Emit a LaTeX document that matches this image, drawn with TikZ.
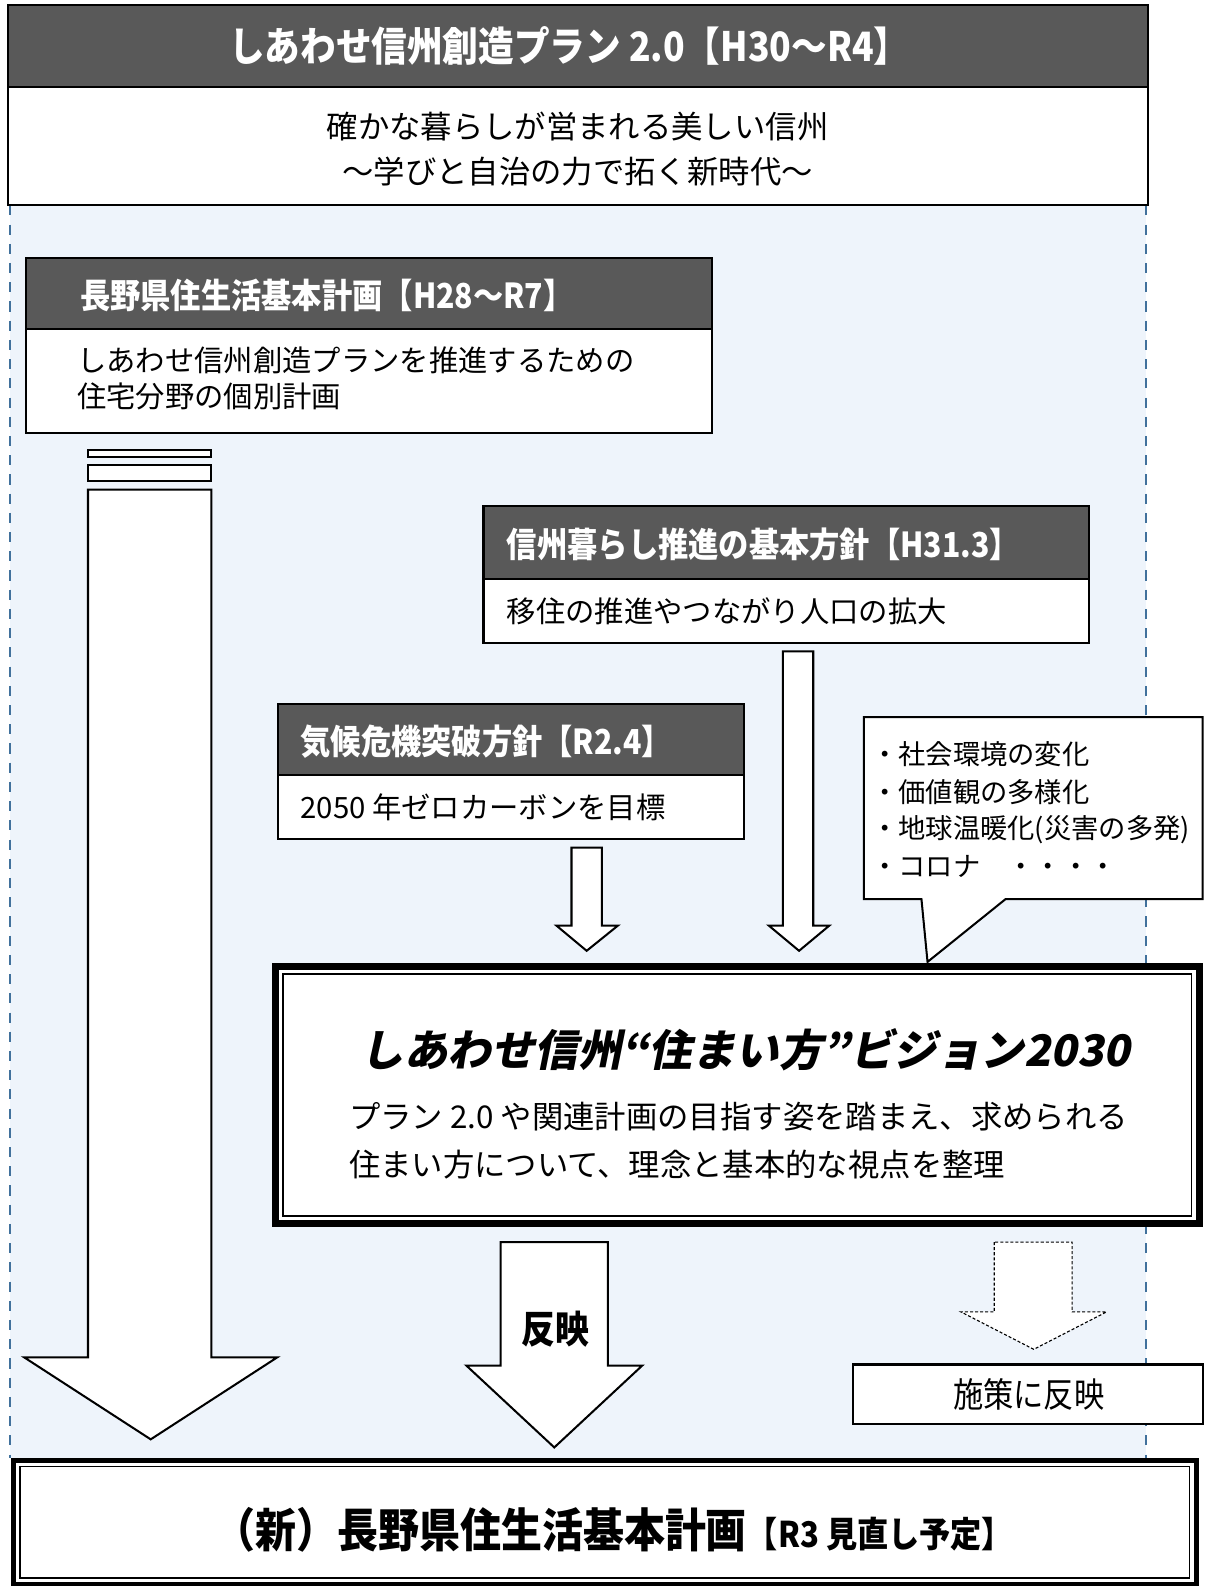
\documentclass[tikz,border=0pt]{standalone}
\usepackage{fontspec}
\setmainfont{Noto Sans CJK JP}
\newfontfamily\hd{Noto Sans CJK JP}[FakeStretch=0.88]
\newfontfamily\vis{Noto Sans CJK JP}[FakeSlant=0.2]
\definecolor{hdr}{HTML}{595959}
\definecolor{bgblue}{HTML}{EEF4FB}
\definecolor{dashblue}{HTML}{41719C}
\begin{document}
\begin{tikzpicture}[x=1pt,y=-1pt,
  box/.style={draw=black, line width=2pt, fill=white},
  hdrbox/.style={draw=black, line width=2pt, fill=hdr},
  barrow/.style={draw=black, line width=2pt, fill=white, line join=miter},
  dbarrow/.style={draw=black, line width=1.1pt, fill=white, dash pattern=on 3pt off 2pt},
  bgline/.style={dashblue, line width=2.6pt, dash pattern=on 10pt off 9pt},
  hdtext/.style={inner sep=0pt, text=white, font={\hd\bfseries\fontsize{34}{38}\selectfont}},
  bodytext/.style={inner sep=0pt, font={\fontsize{29}{32}\selectfont}},
  plain/.style={inner sep=0pt}]
\useasboundingbox (0,0) rectangle (1191,1568);

% light blue background region
\fill[bgblue] (10,203) rectangle (1133,1441);
\draw[bgline] (10,203) -- (10,1441);
\draw[bgline] (1133,203) -- (1133,1441);

% top plan box
\draw[box] (8,86) rectangle (1135,203);
\draw[hdrbox] (8,5) rectangle (1135,86);
\node[plain, text=white, font={\hd\bfseries\fontsize{40}{44}\selectfont}] (title) at (563,45) {しあわせ信州創造プラン 2.0【H30～R4】};
\node[plain, font={\fontsize{31}{34}\selectfont}] (sub1) at (571,125) {確かな暮らしが営まれる美しい信州};
\node[plain, font={\fontsize{31}{34}\selectfont}] (sub2) at (571,170) {～学びと自治の力で拓く新時代～};

% housing plan box
\draw[box] (26,325) rectangle (704,428);
\draw[hdrbox] (26,255) rectangle (704,325);
\node[hdtext, anchor=west] (hA) at (79,292) {長野県住生活基本計画【H28～R7】};
\node[bodytext, anchor=west] (bA1) at (76,356) {しあわせ信州創造プランを推進するための};
\node[bodytext, anchor=west] (bA2) at (76,392) {住宅分野の個別計画};

% left long arrow
\draw[box] (87,445) rectangle (209,452);
\draw[box] (87,460) rectangle (209,476);
\draw[barrow] (87,484) -- (87,1342) -- (24,1342) -- (149,1423) -- (274,1342) -- (209,1342) -- (209,484) -- cycle;

% Shinshu kurashi box
\draw[box] (478,572) rectangle (1077,636);
\draw[hdrbox] (478,500) rectangle (1077,572);
\node[hdtext, anchor=west] (hB) at (501,538) {信州暮らし推進の基本方針【H31.3】};
\node[bodytext, anchor=west] (bB) at (501,604) {移住の推進やつながり人口の拡大};

% climate box
\draw[box] (275,766) rectangle (736,829);
\draw[hdrbox] (275,696) rectangle (736,766);
\node[hdtext, anchor=west] (hC) at (297,733) {気候危機突破方針【R2.4】};
\node[bodytext, anchor=west] (bC) at (297,798) {2050 年ゼロカーボンを目標};

% small arrows
\draw[barrow] (565,838) -- (565,915) -- (550,915) -- (580,940) -- (611,915) -- (595,915) -- (595,838) -- cycle;
\draw[barrow] (774,644) -- (774,915) -- (760,915) -- (790,940) -- (820,915) -- (804,915) -- (804,644) -- cycle;

% callout
\draw[box, line join=miter] (854,709) -- (1189,709) -- (1189,889) -- (994,889) -- (917,951) -- (911,889) -- (854,889) -- cycle;
\node[plain, anchor=west, font={\fontsize{27}{30}\selectfont}] (c1) at (861,746) {・社会環境の変化};
\node[plain, anchor=west, font={\fontsize{27}{30}\selectfont}] (c2) at (861,783) {・価値観の多様化};
\node[plain, anchor=west, font={\fontsize{27}{30}\selectfont}] (c3) at (861,820) {・地球温暖化(災害の多発)};
\node[plain, anchor=west, font={\fontsize{27}{30}\selectfont}] (c4) at (861,857) {・コロナ　・・・・};

% vision box
\fill[white] (269,952) rectangle (1189,1213);
\draw[line width=7pt] (272.5,955.5) rectangle (1185.5,1209.5);
\draw[line width=1.5pt] (280,963) rectangle (1178,1202);
\node[plain, font={\vis\bfseries\fontsize{43}{47}\selectfont}] (vt) at (737,1038) {しあわせ信州“住まい方”ビジョン2030};
\node[plain, anchor=west, font={\fontsize{31}{34}\selectfont}] (v1) at (345,1104) {プラン 2.0 や関連計画の目指す姿を踏まえ、求められる};
\node[plain, anchor=west, font={\fontsize{31}{34}\selectfont}] (v2) at (345,1151) {住まい方について、理念と基本的な視点を整理};

% reflect arrow
\draw[barrow] (495,1228) -- (495,1350) -- (461,1350) -- (548,1431) -- (635,1350) -- (601,1350) -- (601,1228) -- cycle;
\node[plain, font={\hd\bfseries\fontsize{38}{42}\selectfont}] (ref) at (549,1314) {反映};

% dashed arrow and policy box
\draw[dbarrow] (983,1228) -- (983,1297) -- (950,1297) -- (1022,1334) -- (1094,1297) -- (1060,1297) -- (1060,1228) -- cycle;
\draw[box] (843,1349) rectangle (1189,1408);
\node[plain, font={\hd\fontsize{34}{38}\selectfont}] (pol) at (1017,1379) {施策に反映};

% bottom new plan box
\fill[white] (11,1441) rectangle (1185,1568);
\draw[line width=5pt] (13.5,1443.5) rectangle (1182.5,1566.5);
\draw[line width=1.5pt] (20,1450) rectangle (1176,1560);
\node[plain, anchor=west] (np) at (212,1512) {{\hd\bfseries\fontsize{46}{50}\selectfont （新）長野県住生活基本計画}{\hd\bfseries\fontsize{35}{38}\selectfont 【R3 見直し予定】}};
\end{tikzpicture}
\end{document}
